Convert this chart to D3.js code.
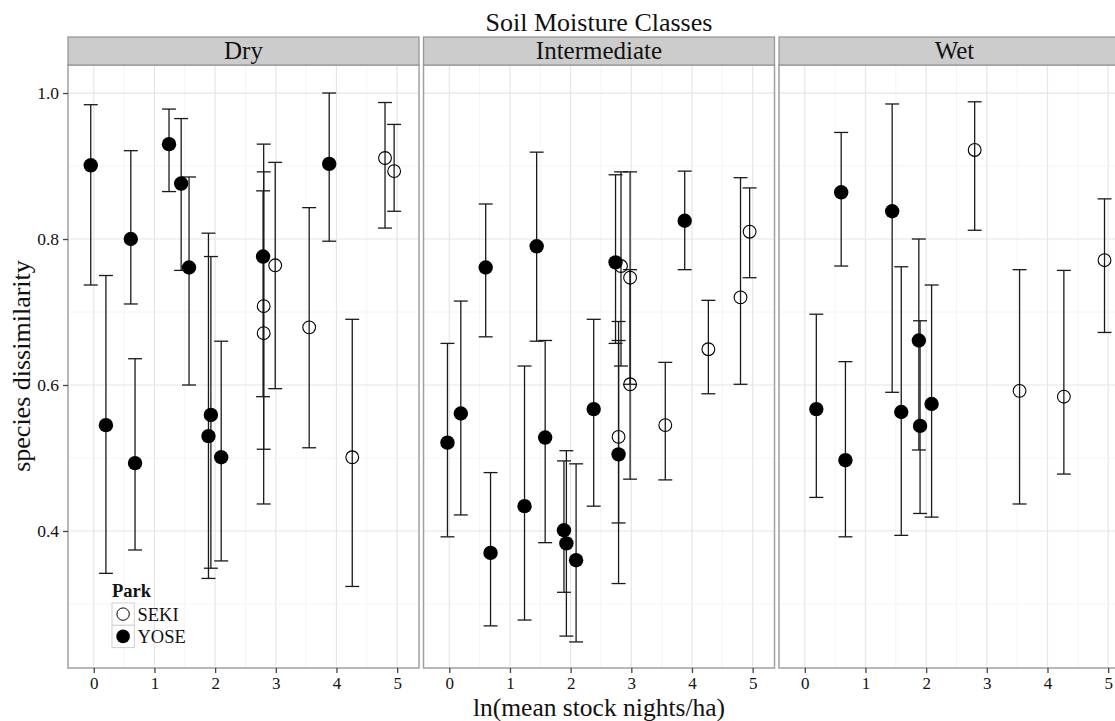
<!DOCTYPE html>
<html>
<head>
<meta charset="utf-8">
<script src="https://cdn.jsdelivr.net/npm/d3@7"></script>
<style>
  body { margin: 0; background: #fff; }
  text { font-family: "Liberation Serif", "Times New Roman", serif; }
</style>
</head>
<body>
<svg id="chart"></svg>
<script>
// facet names
const classes = ["Dry", "Intermediate", "Wet"];

// Dry
const dryStock = [-0.05, 0.20, 0.61, 0.68, 1.24, 1.44, 1.57, 1.93, 1.89, 2.10, 2.79, 3.88, 2.80, 2.80, 2.99, 3.55, 4.26, 4.80, 4.95];
const dryMean  = [0.901, 0.545, 0.800, 0.493, 0.930, 0.876, 0.761, 0.559, 0.530, 0.501, 0.776, 0.903, 0.708, 0.671, 0.764, 0.679, 0.501, 0.911, 0.893];
const dryLower = [0.737, 0.342, 0.711, 0.374, 0.865, 0.757, 0.600, 0.349, 0.335, 0.359, 0.584, 0.797, 0.512, 0.437, 0.595, 0.514, 0.324, 0.815, 0.838];
const dryUpper = [0.984, 0.750, 0.921, 0.636, 0.978, 0.965, 0.885, 0.776, 0.808, 0.660, 0.866, 1.000, 0.930, 0.892, 0.905, 0.843, 0.690, 0.987, 0.957];
const dryPark  = ["YOSE","YOSE","YOSE","YOSE","YOSE","YOSE","YOSE","YOSE","YOSE","YOSE","YOSE","YOSE","SEKI","SEKI","SEKI","SEKI","SEKI","SEKI","SEKI"];

// Intermediate
const intStock = [-0.03, 0.19, 0.60, 0.68, 1.24, 1.44, 1.58, 1.89, 1.93, 2.09, 2.38, 2.74, 2.79, 3.88, 2.83, 2.98, 2.98, 2.79, 3.56, 4.27, 4.80, 4.95];
const intMean  = [0.521, 0.561, 0.761, 0.370, 0.434, 0.790, 0.528, 0.401, 0.383, 0.360, 0.567, 0.768, 0.505, 0.825, 0.763, 0.747, 0.601, 0.529, 0.545, 0.649, 0.720, 0.810];
const intLower = [0.392, 0.422, 0.666, 0.270, 0.278, 0.660, 0.384, 0.316, 0.256, 0.248, 0.434, 0.657, 0.328, 0.758, 0.626, 0.601, 0.471, 0.411, 0.470, 0.588, 0.601, 0.747];
const intUpper = [0.657, 0.715, 0.848, 0.480, 0.626, 0.919, 0.661, 0.496, 0.510, 0.492, 0.690, 0.888, 0.687, 0.893, 0.892, 0.892, 0.758, 0.661, 0.631, 0.716, 0.884, 0.870];
const intPark  = ["YOSE","YOSE","YOSE","YOSE","YOSE","YOSE","YOSE","YOSE","YOSE","YOSE","YOSE","YOSE","YOSE","YOSE","SEKI","SEKI","SEKI","SEKI","SEKI","SEKI","SEKI","SEKI"];

// Wet
const wetStock = [0.19, 0.60, 0.67, 1.44, 1.59, 1.88, 1.90, 2.09, 2.80, 3.54, 4.27, 4.94];
const wetMean  = [0.567, 0.864, 0.497, 0.838, 0.563, 0.661, 0.544, 0.574, 0.922, 0.592, 0.584, 0.771];
const wetLower = [0.446, 0.763, 0.392, 0.590, 0.394, 0.511, 0.424, 0.419, 0.812, 0.437, 0.478, 0.672];
const wetUpper = [0.697, 0.946, 0.632, 0.985, 0.762, 0.800, 0.688, 0.737, 0.988, 0.758, 0.757, 0.855];
const wetPark  = ["YOSE","YOSE","YOSE","YOSE","YOSE","YOSE","YOSE","YOSE","SEKI","SEKI","SEKI","SEKI"];

const xTicks = [0, 1, 2, 3, 4, 5];
const yTicks = [0.4, 0.6, 0.8, 1.0];
const parks = ["SEKI", "YOSE"];

function rows(stock, mean, lower, upper, park) {
  return stock.map((s, i) => ({ x: s, y: mean[i], lo: lower[i], hi: upper[i], park: park[i] }));
}
const panels = [
  rows(dryStock, dryMean, dryLower, dryUpper, dryPark),
  rows(intStock, intMean, intLower, intUpper, intPark),
  rows(wetStock, wetMean, wetLower, wetUpper, wetPark)
];

const W = 1115, H = 721;
const panelLeft = 68, panelStep = 355.5, panelW = 351;
const stripTop = 37, panelTop = 65, panelH = 603;

const svg = d3.select('#chart').attr('width', W).attr('height', H);

const x = d3.scaleLinear().domain([-0.425, 5.36]).range([0, panelW]);
const y = d3.scaleLinear().domain([0.2123, 1.0384]).range([panelH, 0]);

const xMinor = [0.5, 1.5, 2.5, 3.5, 4.5];
const yMinor = [0.3, 0.5, 0.7, 0.9];
const capHalf = 0.115;

panels.forEach((data, i) => {
  const g = svg.append('g')
    .attr('transform', `translate(${panelLeft + i * panelStep},${panelTop})`);

  g.append('rect').attr('width', panelW).attr('height', panelH).attr('fill', '#fff');

  // grid
  g.selectAll('.minx').data(xMinor).join('line')
    .attr('x1', d => x(d)).attr('x2', d => x(d)).attr('y1', 0).attr('y2', panelH)
    .attr('stroke', '#f4f4f4').attr('stroke-width', 1);
  g.selectAll('.miny').data(yMinor).join('line')
    .attr('y1', d => y(d)).attr('y2', d => y(d)).attr('x1', 0).attr('x2', panelW)
    .attr('stroke', '#f4f4f4').attr('stroke-width', 1);
  g.selectAll('.majx').data(xTicks).join('line')
    .attr('x1', d => x(d)).attr('x2', d => x(d)).attr('y1', 0).attr('y2', panelH)
    .attr('stroke', '#e6e6e6').attr('stroke-width', 1.2);
  g.selectAll('.majy').data(yTicks).join('line')
    .attr('y1', d => y(d)).attr('y2', d => y(d)).attr('x1', 0).attr('x2', panelW)
    .attr('stroke', '#e6e6e6').attr('stroke-width', 1.2);

  // error bars
  const eb = g.selectAll('.eb').data(data).join('g').attr('stroke', '#1a1a1a').attr('stroke-width', 1.3);
  eb.append('line').attr('x1', d => x(d.x)).attr('x2', d => x(d.x)).attr('y1', d => y(d.lo)).attr('y2', d => y(d.hi));
  eb.append('line').attr('x1', d => x(d.x - capHalf)).attr('x2', d => x(d.x + capHalf)).attr('y1', d => y(d.lo)).attr('y2', d => y(d.lo));
  eb.append('line').attr('x1', d => x(d.x - capHalf)).attr('x2', d => x(d.x + capHalf)).attr('y1', d => y(d.hi)).attr('y2', d => y(d.hi));

  // points
  g.selectAll('.pt').data(data).join('circle')
    .attr('cx', d => x(d.x)).attr('cy', d => y(d.y))
    .attr('r', d => d.park === 'YOSE' ? 7.2 : 6.4)
    .attr('fill', d => d.park === 'YOSE' ? '#000' : 'none')
    .attr('stroke', '#000').attr('stroke-width', d => d.park === 'YOSE' ? 0 : 1.1);

  // border
  g.append('rect').attr('width', panelW).attr('height', panelH)
    .attr('fill', 'none').attr('stroke', '#a0a0a0').attr('stroke-width', 1.5);

  // strip
  const strip = svg.append('g').attr('transform', `translate(${panelLeft + i * panelStep},${stripTop})`);
  strip.append('rect').attr('width', panelW).attr('height', panelTop - stripTop)
    .attr('fill', '#cccccc').attr('stroke', '#999').attr('stroke-width', 1.3);
  strip.append('text').attr('x', panelW / 2).attr('y', 22).attr('text-anchor', 'middle')
    .attr('font-size', 25).attr('fill', '#111').text(classes[i]);

  // x axis
  const xa = g.append('g').attr('transform', `translate(0,${panelH})`)
    .call(d3.axisBottom(x).tickValues(xTicks).tickFormat(d3.format('d')).tickSize(5).tickPadding(4));
  xa.select('.domain').remove();
  xa.selectAll('line').attr('stroke', '#444').attr('stroke-width', 1.3);
  xa.selectAll('text').attr('font-size', 17).attr('fill', '#111')
    .style('font-family', '"Liberation Serif", "Times New Roman", serif');

  if (i === 0) {
    const ya = g.append('g').call(d3.axisLeft(y).tickValues(yTicks).tickFormat(d3.format('.1f')).tickSize(5).tickPadding(4));
    ya.select('.domain').remove();
    ya.selectAll('line').attr('stroke', '#444').attr('stroke-width', 1.3);
    ya.selectAll('text').attr('font-size', 17.5).attr('fill', '#111')
      .style('font-family', '"Liberation Serif", "Times New Roman", serif');
  }
});

// titles
svg.append('text').attr('x', 599).attr('y', 31).attr('text-anchor', 'middle')
  .attr('font-size', 26).attr('fill', '#111').text('Soil Moisture Classes');
svg.append('text').attr('x', 599).attr('y', 716).attr('text-anchor', 'middle')
  .attr('font-size', 25.5).attr('fill', '#111').text('ln(mean stock nights/ha)');
svg.append('text').attr('transform', 'translate(30,366) rotate(-90)').attr('text-anchor', 'middle')
  .attr('font-size', 26).attr('fill', '#111').text('species dissimilarity');

// legend
const leg = svg.append('g').attr('transform', 'translate(112,603)');
leg.append('text').attr('x', 0).attr('y', -6).attr('font-size', 18.5).attr('font-weight', 'bold')
  .attr('fill', '#111').text('Park');
const item = leg.selectAll('.key').data(parks).join('g')
  .attr('transform', (d, k) => `translate(0,${k * 22.3})`);
item.append('rect').attr('width', 22.3).attr('height', 22.3).attr('fill', '#fff')
  .attr('stroke', '#cfcfcf').attr('stroke-width', 1);
item.append('circle').attr('cx', 11.1).attr('cy', 11.1)
  .attr('r', d => d === 'YOSE' ? 6.8 : 6.2)
  .attr('fill', d => d === 'YOSE' ? '#000' : 'none')
  .attr('stroke', '#000').attr('stroke-width', d => d === 'YOSE' ? 0 : 1);
item.append('text').attr('x', 25.5).attr('y', 17.5).attr('font-size', 18.5).attr('fill', '#111').text(d => d);
</script>
</body>
</html>
